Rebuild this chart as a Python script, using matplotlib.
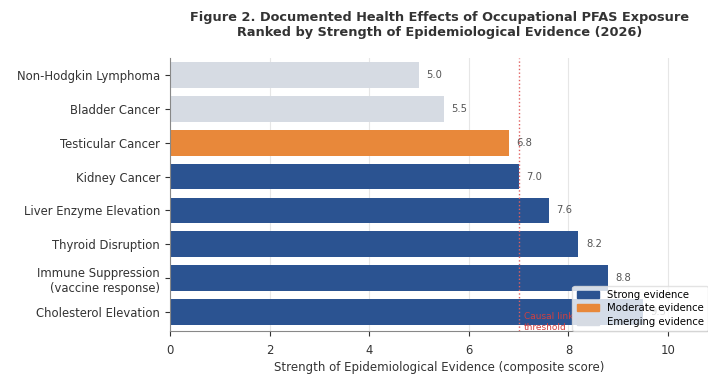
import matplotlib.pyplot as plt
import numpy as np
from matplotlib.patches import Patch

effects = ["Cholesterol Elevation", "Immune Suppression\n(vaccine response)", "Thyroid Disruption",
           "Liver Enzyme Elevation", "Kidney Cancer", "Testicular Cancer", "Bladder Cancer",
           "Non-Hodgkin Lymphoma"]
scores = [9.5, 8.8, 8.2, 7.6, 7.0, 6.8, 5.5, 5.0]
evidence = ["Strong", "Strong", "Strong", "Strong", "Strong", "Moderate", "Emerging", "Emerging"]
threshold = 7.0

colors = {"Strong": "#2b5391", "Moderate": "#e8883a", "Emerging": "#d6dbe3"}

fig = plt.figure(figsize=(7.08, 3.74), dpi=100)
ax = fig.add_axes([0.24, 0.115, 0.76, 0.73])

y = np.arange(len(effects))
ax.barh(y, scores, height=0.76, color=[colors[e] for e in evidence], zorder=2)
for yi, s in zip(y, scores):
    ax.text(s + 0.15, yi, f"{s:.1f}", va="center", ha="left", fontsize=7.2, color="#555555")

ax.axvline(threshold, color="#e06060", linestyle=":", linewidth=1, zorder=3)
ax.text(threshold + 0.1, -0.3, "Causal link\nthreshold", color="#d04040", fontsize=6.5, va="center", ha="left", zorder=3)

ax.set_yticks(y)
ax.set_yticklabels(effects, fontsize=8.4, color="#333333")
ax.set_xlim(0, 10.8)
ax.set_ylim(-0.56, 7.5)
ax.set_xticks([0, 2, 4, 6, 8, 10])
ax.tick_params(axis="x", labelsize=8.4, colors="#333333", pad=6)
ax.tick_params(axis="y", colors="#333333")
ax.set_xlabel("Strength of Epidemiological Evidence (composite score)", fontsize=8.5, color="#333333", labelpad=3)
ax.grid(axis="x", color="#e6e6e6", linewidth=0.8, zorder=0)
ax.spines["top"].set_visible(False)
ax.spines["right"].set_visible(False)
ax.spines["left"].set_color("#888888")
ax.spines["bottom"].set_color("#888888")

handles = [Patch(color=colors["Strong"], label="Strong evidence"),
           Patch(color=colors["Moderate"], label="Moderate evidence"),
           Patch(color=colors["Emerging"], label="Emerging evidence")]
leg = ax.legend(handles=handles, loc="lower right", fontsize=7.3, frameon=True, framealpha=0.8,
                borderaxespad=0.0, handlelength=2.2, labelspacing=0.35)
leg.get_frame().set_edgecolor("#dddddd")

fig.text(0.621, 0.933, "Figure 2. Documented Health Effects of Occupational PFAS Exposure\n"
         "Ranked by Strength of Epidemiological Evidence (2026)",
         ha="center", va="center", fontsize=9.3, fontweight="bold", color="#333333")

fig.savefig("out.png", dpi=100)
